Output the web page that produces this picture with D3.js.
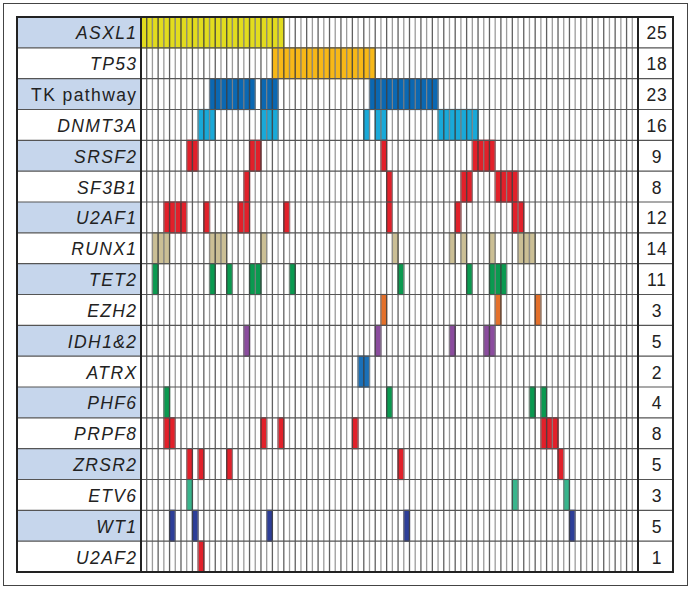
<!DOCTYPE html>
<html>
<head>
<meta charset="utf-8">
<script src="https://cdn.jsdelivr.net/npm/d3@7"></script>
<style>
  body { margin: 0; background: #fff; }
  text { font-family: "Liberation Sans", Arial, sans-serif; }
</style>
</head>
<body>
<div id="chart"></div>
<script>
const width = 692;
const height = 590;

// genes (rows), number of mutated samples, and the mutated sample columns
const genes = ['ASXL1', 'TP53', 'TK pathway', 'DNMT3A', 'SRSF2', 'SF3B1', 'U2AF1', 'RUNX1', 'TET2',
               'EZH2', 'IDH1&2', 'ATRX', 'PHF6', 'PRPF8', 'ZRSR2', 'ETV6', 'WT1', 'U2AF2'];
const counts = [25, 18, 23, 16, 9, 8, 12, 14, 11, 3, 5, 2, 4, 8, 5, 3, 5, 1];
const nSamples = 87;

const mutated = [
  [0,1,2,3,4,5,6,7,8,9,10,11,12,13,14,15,16,17,18,19,20,21,22,23,24],
  [23,24,25,26,27,28,29,30,31,32,33,34,35,36,37,38,39,40],
  [12,13,14,15,16,17,18,19,21,22,23,40,41,42,43,44,45,46,47,48,49,50,51],
  [10,11,12,21,22,23,39,41,42,52,53,54,55,56,57,58],
  [8,9,19,20,42,58,59,60,61],
  [18,43,56,57,62,63,64,65],
  [4,5,6,7,11,17,18,25,43,55,65,66],
  [2,3,4,12,13,14,21,44,54,56,61,66,67,68],
  [2,12,15,19,20,26,45,57,61,62,63],
  [42,62,69],
  [18,41,54,60,61],
  [38,39],
  [4,43,68,70],
  [4,5,21,24,37,70,71,72],
  [8,10,15,45,73],
  [8,65,74],
  [5,9,22,46,75],
  [10]
];

const geneColors = ['#e2dc1e', '#f7b817', '#0b68b2', '#19a9d8', '#e2202a', '#e2202a', '#e2202a',
                    '#cbbf95', '#0a9a50', '#e4702a', '#8b4c9e', '#1a70b8', '#0a9a50', '#e2202a',
                    '#e2202a', '#38b58c', '#2d3e98', '#e2202a'];

const tableLeft = 17, labelRight = 141, gridRight = 638, tableRight = 673;
const tableTop = 17, tableBottom = 572;

const svg = d3.select('#chart')
  .append('svg')
  .attr('width', width)
  .attr('height', height);

// outer frame
svg.append('rect')
   .attr('x', 3.5).attr('y', 3.5)
   .attr('width', 684).attr('height', 582)
   .style('fill', 'none')
   .style('stroke', '#444')
   .style('stroke-width', 1);

const xScale = d3.scaleBand()
                 .domain(d3.range(nSamples))
                 .range([labelRight, gridRight]);

const yScale = d3.scaleBand()
                 .domain(genes)
                 .range([tableTop, tableBottom]);

// label backgrounds (alternating)
svg.selectAll('.label-bg')
   .data(genes)
   .enter()
   .append('rect')
   .attr('class', 'label-bg')
   .attr('x', tableLeft)
   .attr('y', d => yScale(d))
   .attr('width', labelRight - tableLeft)
   .attr('height', yScale.bandwidth())
   .style('fill', (d, i) => i % 2 === 0 ? '#c6d6ec' : '#fff');

// mutation cells
const cells = [];
mutated.forEach((cols, g) => {
  cols.forEach(c => cells.push({gene: genes[g], col: c, color: geneColors[g]}));
});

svg.selectAll('.cell')
   .data(cells)
   .enter()
   .append('rect')
   .attr('class', 'cell')
   .attr('x', d => xScale(d.col))
   .attr('y', d => yScale(d.gene))
   .attr('width', xScale.bandwidth())
   .attr('height', yScale.bandwidth())
   .style('fill', d => d.color)
   .style('stroke', d => d3.color(d.color).darker(0.7))
   .style('stroke-width', 1.2);

// vertical grid lines
svg.selectAll('.vline')
   .data(d3.range(1, nSamples))
   .enter()
   .append('line')
   .attr('class', 'vline')
   .attr('x1', d => xScale(d))
   .attr('x2', d => xScale(d))
   .attr('y1', tableTop)
   .attr('y2', tableBottom)
   .style('stroke', (d, i) => i % 2 === 0 ? '#444' : '#8a8a8a')
   .style('stroke-width', 1.3)
   .style('stroke-opacity', 0.85);

// horizontal row lines
svg.selectAll('.hline')
   .data(genes.slice(1))
   .enter()
   .append('line')
   .attr('class', 'hline')
   .attr('x1', tableLeft)
   .attr('x2', tableRight)
   .attr('y1', d => yScale(d))
   .attr('y2', d => yScale(d))
   .style('stroke', '#555')
   .style('stroke-width', 1.2);

// gene labels
svg.selectAll('.gene-label')
   .data(genes)
   .enter()
   .append('text')
   .attr('class', 'gene-label')
   .text(d => d)
   .attr('x', labelRight - 3.5)
   .attr('y', d => yScale(d) + yScale.bandwidth() / 2 + 7)
   .attr('text-anchor', 'end')
   .style('font-size', '17.5px')
   .style('letter-spacing', '1.4px')
   .style('font-style', d => d === 'TK pathway' ? 'normal' : 'italic')
   .style('fill', '#222');

// counts
svg.selectAll('.count')
   .data(counts)
   .enter()
   .append('text')
   .attr('class', 'count')
   .text(d => d)
   .attr('x', (gridRight + tableRight) / 2 + 1.5)
   .attr('y', (d, i) => yScale(genes[i]) + yScale.bandwidth() / 2 + 7)
   .attr('text-anchor', 'middle')
   .style('font-size', '17.5px')
   .style('letter-spacing', '0.8px')
   .style('fill', '#222');

// separators and table border
[labelRight, gridRight].forEach(x => {
  svg.append('line')
     .attr('x1', x).attr('x2', x)
     .attr('y1', tableTop).attr('y2', tableBottom)
     .style('stroke', '#222')
     .style('stroke-width', 2);
});

svg.append('rect')
   .attr('x', tableLeft).attr('y', tableTop)
   .attr('width', tableRight - tableLeft).attr('height', tableBottom - tableTop)
   .style('fill', 'none')
   .style('stroke', '#222')
   .style('stroke-width', 2);
</script>
</body>
</html>
